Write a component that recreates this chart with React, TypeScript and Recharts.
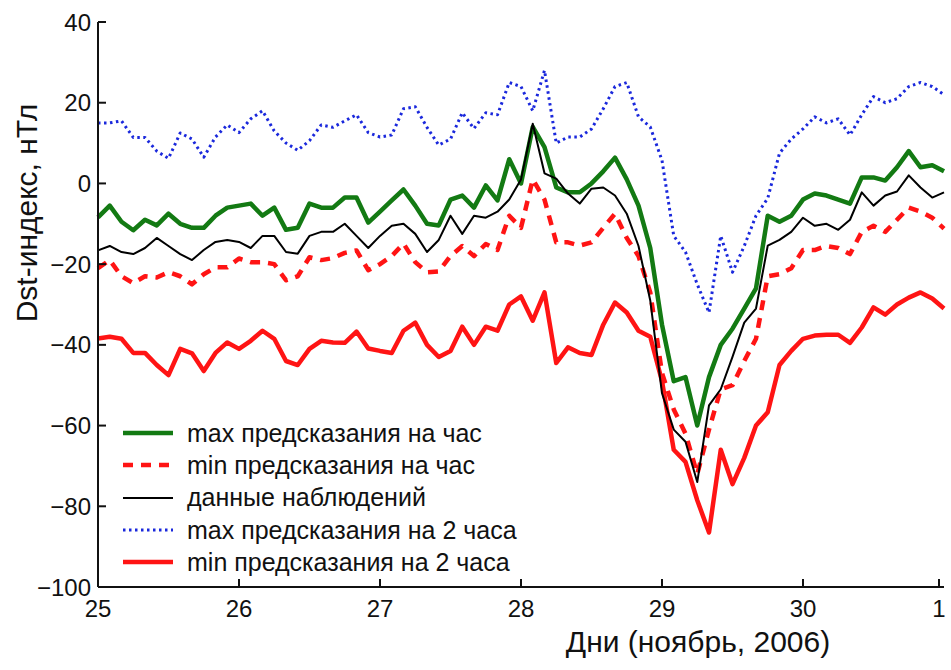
import { LineChart, Line, XAxis, YAxis } from "recharts";

// hourly Dst index, 25 Nov – 1 Dec 2006, sampled every 2 hours
const HOURS = Array.from({ length: 73 }, (_, i) => i * 2);
const DAY_TICKS = [0, 24, 48, 72, 96, 120, 144];
const DAY_LABELS = ["25", "26", "27", "28", "29", "30", "1"];
const Y_TICKS = [-100, -80, -60, -40, -20, 0, 20, 40];

const MAX_1H = [
  -8.4, -5.5, -9.5, -11.6, -9, -10.4, -7.5, -10, -11, -11,
  -8, -6, -5.5, -5, -8, -6, -11.5, -11, -5, -6,
  -6, -3.5, -3.5, -9.7, -7, -4.2, -1.5, -5.5, -10, -10.4,
  -4, -3, -6, -0.5, -4.2, 6, 0, 14, 9, -1,
  -2.2, -2.2, 0, 3, 6.4, 1, -5.5, -16, -35, -49,
  -48, -60, -48, -40, -36, -31, -26, -8, -9.5, -8,
  -4, -2.5, -3, -4, -5, 1.5, 1.5, 0.7, 4, 8,
  4, 4.5, 3,
];

const MIN_1H = [
  -21, -19, -23, -24.7, -23, -23.3, -22, -23, -25, -22.5,
  -20.8, -20.8, -18.6, -19.5, -19.5, -20, -24, -23, -18.3, -19,
  -18.5, -17.2, -16.6, -21.5, -20, -18, -14.9, -19.5, -22, -21.8,
  -18, -15.5, -18, -15, -16.5, -8, -11, 1, -4, -14.6,
  -14.6, -15.4, -14.6, -11, -7.5, -13.5, -18, -27, -47, -56,
  -62, -72, -61, -51, -50, -44, -38.5, -23, -22.5, -21,
  -16.5, -16.5, -15.5, -16, -17.5, -12, -10.5, -12, -9, -6,
  -7, -8.5, -11.2,
];

const OBSERVED = [
  -16.6, -15.5, -17, -17.5, -16, -13.5, -15.5, -17.5, -19, -16.5,
  -14.5, -14, -14.5, -16, -13, -13, -17, -17.4, -13, -12,
  -12, -10, -13, -16, -13, -10.5, -10, -12.5, -17, -14,
  -8, -12.5, -8, -8.5, -7, -4, 1, 14.8, 2.5, 1.2,
  -2.5, -5, -1.3, -1, -3, -7.5, -15.5, -29, -52, -61,
  -64, -74, -55, -51, -43, -34.5, -31, -15.4, -14, -12,
  -8.5, -10.5, -10, -11.5, -9, -2.2, -5.5, -3, -2, 2,
  -1, -3.5, -2.2,
];

const MAX_2H = [
  15, 15, 15.5, 11.4, 11.4, 8, 6.2, 12.5, 11, 6.5,
  11.5, 14.5, 12.6, 16, 18, 13, 10, 8.2, 10.6, 14.5,
  13.9, 15.5, 17, 12.6, 11.5, 12, 18.5, 19, 13.9, 9.5,
  11, 17.5, 13.6, 17.5, 17, 25, 24, 18, 28, 10,
  11.5, 11.5, 13.5, 18.5, 24, 25, 16.5, 14, 5.7, -13,
  -17, -25, -32, -13, -22, -15.5, -8, -3.7, 7.5, 11,
  13.5, 16.5, 15, 16, 12, 17, 21.5, 20, 21, 24,
  25, 24, 22,
];

const MIN_2H = [
  -38.4, -38, -38.5, -42, -42, -45, -47.5, -41, -42.1, -46.5,
  -42, -39.4, -41, -39, -36.5, -38.5, -44, -45, -41, -39,
  -39.4, -39.5, -36.7, -40.9, -41.5, -42, -36.5, -34.5, -40, -43,
  -41.5, -35.5, -40, -35.5, -36.5, -30, -28, -34, -27, -44.5,
  -40.6, -42, -42.5, -35, -29.5, -32, -36.5, -38, -49, -66,
  -69, -78.5, -86.5, -66, -74.5, -68, -60, -56.7, -45, -41.5,
  -38.5, -37.7, -37.5, -37.5, -39.5, -35.7, -30.7, -32.5, -30, -28.3,
  -27, -28.5, -31,
];

const data = HOURS.map((h, i) => ({
  h,
  max1: MAX_1H[i],
  min1: MIN_1H[i],
  obs: OBSERVED[i],
  max2: MAX_2H[i],
  min2: MIN_2H[i],
}));

const FONT = '"Liberation Sans", Arial, sans-serif';
const TICK_FONT = '"Liberation Sans Narrow", "Liberation Sans", Arial, sans-serif';

// drawn back to front
const SERIES = [
  { key: "max2", label: "max предсказания на 2 часа", color: "#1a28dc", width: 3, dash: "2.5 3.5" },
  { key: "min2", label: "min предсказания на 2 часа", color: "#ff1414", width: 4.5, dash: undefined },
  { key: "max1", label: "max предсказания на час", color: "#137a13", width: 4.5, dash: undefined },
  { key: "min1", label: "min предсказания на час", color: "#ff1414", width: 4.5, dash: "10 8" },
  { key: "obs", label: "данные наблюдений", color: "#000000", width: 2, dash: undefined },
];

const LEGEND_ORDER = ["max1", "min1", "obs", "max2", "min2"];

const fmtY = (v: number) => (v < 0 ? `\u2212${Math.abs(v)}` : String(v));

function YTick(props: any) {
  const { x, y, payload } = props;
  return (
    <g>
      <line x1={x} x2={x + 8} y1={y} y2={y} stroke="#111" strokeWidth={2} />
      <text
        x={x - 7}
        y={y}
        textAnchor="end"
        dominantBaseline="central"
        fontFamily={TICK_FONT}
        fontSize={24}
        fill="#111"
      >
        {fmtY(payload.value)}
      </text>
    </g>
  );
}

function XTick(props: any) {
  const { x, y, payload } = props;
  const idx = DAY_TICKS.indexOf(payload.value);
  return (
    <g>
      <line x1={x} x2={x} y1={y} y2={y - 8} stroke="#111" strokeWidth={2} />
      <text x={x} y={y + 30} textAnchor="middle" fontFamily={TICK_FONT} fontSize={24} fill="#111">
        {DAY_LABELS[idx]}
      </text>
    </g>
  );
}

function LegendBox() {
  return (
    <div style={{ position: "absolute", left: 123, top: 417, fontFamily: FONT }}>
      {LEGEND_ORDER.map((k) => {
        const s = SERIES.find((it) => it.key === k)!;
        return (
          <div key={k} style={{ display: "flex", alignItems: "center", height: 32.3 }}>
            <svg width={50} height={12}>
              <line
                x1={0}
                x2={50}
                y1={6}
                y2={6}
                stroke={s.color}
                strokeWidth={s.width}
                strokeDasharray={s.dash}
              />
            </svg>
            <span style={{ marginLeft: 14, fontSize: 25, color: "#111", whiteSpace: "nowrap" }}>
              {s.label}
            </span>
          </div>
        );
      })}
    </div>
  );
}

export default function App() {
  return (
    <div style={{ position: "absolute", left: 0, top: 0, width: 951, height: 670, background: "#fff" }}>
      <LineChart width={951} height={670} data={data} margin={{ top: 22, right: 7, bottom: 0, left: 0 }}>
        <XAxis
          dataKey="h"
          type="number"
          domain={[0, 144]}
          ticks={DAY_TICKS}
          height={83}
          tickSize={0}
          tickMargin={0}
          tick={<XTick />}
          axisLine={{ stroke: "#111", strokeWidth: 2 }}
        />
        <YAxis
          type="number"
          domain={[-100, 40]}
          ticks={Y_TICKS}
          width={98}
          tickSize={0}
          tickMargin={0}
          tick={<YTick />}
          axisLine={{ stroke: "#111", strokeWidth: 2 }}
          allowDataOverflow
        />
        {SERIES.map((s) => (
          <Line
            key={s.key}
            dataKey={s.key}
            type="linear"
            stroke={s.color}
            strokeWidth={s.width}
            strokeDasharray={s.dash}
            strokeLinejoin="round"
            dot={false}
            activeDot={false}
            isAnimationActive={false}
          />
        ))}
      </LineChart>
      <svg
        width={951}
        height={670}
        style={{ position: "absolute", left: 0, top: 0, pointerEvents: "none" }}
      >
        <text
          x={37}
          y={213}
          transform="rotate(-90 37 213)"
          textAnchor="middle"
          fontFamily={FONT}
          fontSize={30}
          fill="#111"
        >
          Dst-индекс, нТл
        </text>
        <text x={698} y={652} textAnchor="middle" fontFamily={FONT} fontSize={30} fill="#111">
          Дни (ноябрь, 2006)
        </text>
      </svg>
      <LegendBox />
    </div>
  );
}
